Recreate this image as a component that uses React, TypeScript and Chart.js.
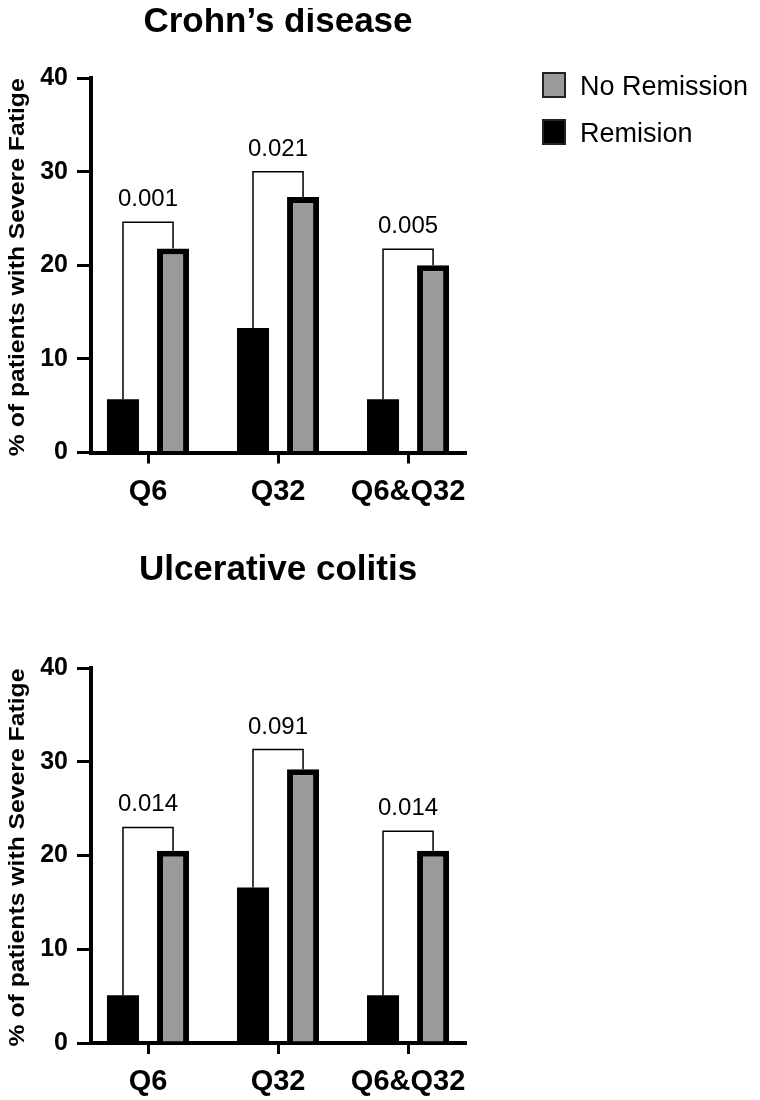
import React, { useEffect, useRef } from "react";
import { Chart, registerables } from "chart.js";

Chart.register(...registerables);

// ---- data ----
const categories = ["Q6", "Q32", "Q6&Q32"];
const yTicks = [0, 10, 20, 30, 40];
const seriesNames = ["Remision", "No Remission"];

const crohnRemission = [5.7, 13.3, 5.7];
const crohnNoRemission = [21.8, 27.3, 20.0];
const crohnBracket = [24.6, 30.0, 21.7];
const crohnPValues = ["0.001", "0.021", "0.005"];

const ucRemission = [5.1, 16.6, 5.1];
const ucNoRemission = [20.5, 29.2, 20.5];
const ucBracket = [23.0, 31.3, 22.6];
const ucPValues = ["0.014", "0.091", "0.014"];

// ---- styling ----
const FONT = "'Liberation Sans', Arial, Helvetica, sans-serif";
const REMISSION_COLOR = "#000000";
const NO_REMISSION_COLOR = "#9a9a9a";
const CANVAS_W = 760;

// Draws panel title, rotated y title, significance brackets with p-values and the legend
const annotate = {
  id: "annotate",
  afterDraw(chart: any, _args: any, opts: any) {
    const { ctx, chartArea, scales } = chart;
    const yScale = scales.y;
    const m0 = chart.getDatasetMeta(0);
    const m1 = chart.getDatasetMeta(1);
    ctx.save();

    // significance brackets
    ctx.strokeStyle = "#000";
    ctx.lineWidth = 1.5;
    ctx.fillStyle = "#000";
    ctx.font = `24px ${FONT}`;
    ctx.textAlign = "center";
    ctx.textBaseline = "alphabetic";
    opts.brackets.forEach((b: number, i: number) => {
      const x0 = m0.data[i].x;
      const x1 = m1.data[i].x;
      const yt = yScale.getPixelForValue(b);
      ctx.beginPath();
      ctx.moveTo(x0, m0.data[i].y);
      ctx.lineTo(x0, yt);
      ctx.lineTo(x1, yt);
      ctx.lineTo(x1, m1.data[i].y);
      ctx.stroke();
      ctx.fillText(opts.pValues[i], (x0 + x1) / 2, yt - 16);
    });

    // panel title
    ctx.font = `bold 35px ${FONT}`;
    ctx.fillText(opts.title, (chartArea.left + chartArea.right) / 2, opts.titleY);

    // y axis title (slightly widened lettering)
    ctx.save();
    ctx.translate(23.5, (chartArea.top + chartArea.bottom) / 2 + 2);
    ctx.rotate(-Math.PI / 2);
    ctx.scale(1.15, 1);
    ctx.font = `bold 21.5px ${FONT}`;
    ctx.textAlign = "center";
    ctx.fillText("% of patients with Severe Fatige", 0, 0);
    ctx.restore();

    // legend (listed in reverse dataset order)
    if (opts.legend) {
      const ds = chart.data.datasets;
      const entries = [ds[1], ds[0]];
      ctx.font = `27px ${FONT}`;
      ctx.textAlign = "left";
      entries.forEach((d: any, k: number) => {
        const top = 64 + k * 47;
        ctx.fillStyle = d.backgroundColor;
        ctx.fillRect(542, top, 24, 26);
        ctx.strokeStyle = "#222";
        ctx.lineWidth = 2;
        ctx.strokeRect(543, top + 1, 22, 24);
        ctx.fillStyle = "#000";
        ctx.fillText(d.label, 580, top + 23);
      });
    }
    ctx.restore();
  },
};

function buildConfig(
  remission: number[],
  noRemission: number[],
  brackets: number[],
  pValues: string[],
  title: string,
  titleY: number,
  legend: boolean,
  topPad: number,
  xAxisHeight: number
): any {
  const tickFont = { family: FONT, weight: "bold" as const };
  return {
    type: "bar",
    data: {
      datasets: [
        {
          label: seriesNames[0],
          data: remission.map((v, i) => ({ x: i, y: v })),
          backgroundColor: REMISSION_COLOR,
          borderColor: "#000",
          borderWidth: 0,
        },
        {
          label: seriesNames[1],
          data: noRemission.map((v, i) => ({ x: i, y: v })),
          backgroundColor: NO_REMISSION_COLOR,
          borderColor: "#000",
          borderWidth: 6,
        },
      ],
    },
    options: {
      responsive: false,
      animation: false,
      events: [],
      categoryPercentage: 0.77,
      barPercentage: 0.64,
      layout: { padding: { top: topPad, right: CANVAS_W - 465, left: 0, bottom: 0 } },
      plugins: {
        legend: { display: false },
        title: { display: false },
        tooltip: { enabled: false },
        annotate: { brackets, pValues, title, titleY, legend },
      },
      scales: {
        x: {
          type: "linear",
          min: -0.4385,
          max: 2.438,
          offset: false,
          afterBuildTicks: (s: any) => {
            s.ticks = categories.map((_, i) => ({ value: i }));
          },
          afterFit: (s: any) => {
            s.height = xAxisHeight;
          },
          grid: {
            display: true,
            offset: false,
            drawOnChartArea: false,
            drawTicks: true,
            tickLength: 11,
            lineWidth: 3,
            color: "#000",
          },
          border: { display: true, width: 4, color: "#000" },
          ticks: {
            callback: (v: number) => categories[v],
            font: { ...tickFont, size: 29 },
            color: "#000",
            padding: 11,
            maxRotation: 0,
            autoSkip: false,
          },
        },
        y: {
          min: 0,
          max: 40,
          afterBuildTicks: (s: any) => {
            s.ticks = yTicks.map((v) => ({ value: v }));
          },
          afterFit: (s: any) => {
            s.width = 91;
          },
          grid: {
            display: true,
            drawOnChartArea: false,
            drawTicks: true,
            tickLength: 14,
            lineWidth: 3,
            color: "#000",
          },
          border: { display: true, width: 4, color: "#000" },
          ticks: {
            font: { ...tickFont, size: 25 },
            color: "#000",
            padding: 9,
          },
        },
      },
    },
    plugins: [annotate],
  };
}

function Panel({ make, height }: { make: () => any; height: number }) {
  const ref = useRef<HTMLCanvasElement | null>(null);
  useEffect(() => {
    if (!ref.current) return;
    const chart = new Chart(ref.current, make());
    return () => chart.destroy();
  }, []);
  return <canvas ref={ref} width={CANVAS_W} height={height} style={{ display: "block" }} />;
}

export default function App() {
  return (
    <div style={{ width: CANVAS_W, height: 1092, marginLeft: -8 }}>
      <Panel
        height={532}
        make={() =>
          buildConfig(crohnRemission, crohnNoRemission, crohnBracket, crohnPValues,
            "Crohn\u2019s disease", 24, true, 70, 87.5)
        }
      />
      <Panel
        height={560}
        make={() =>
          buildConfig(ucRemission, ucNoRemission, ucBracket, ucPValues,
            "Ulcerative colitis", 40, false, 128, 57)
        }
      />
    </div>
  );
}
